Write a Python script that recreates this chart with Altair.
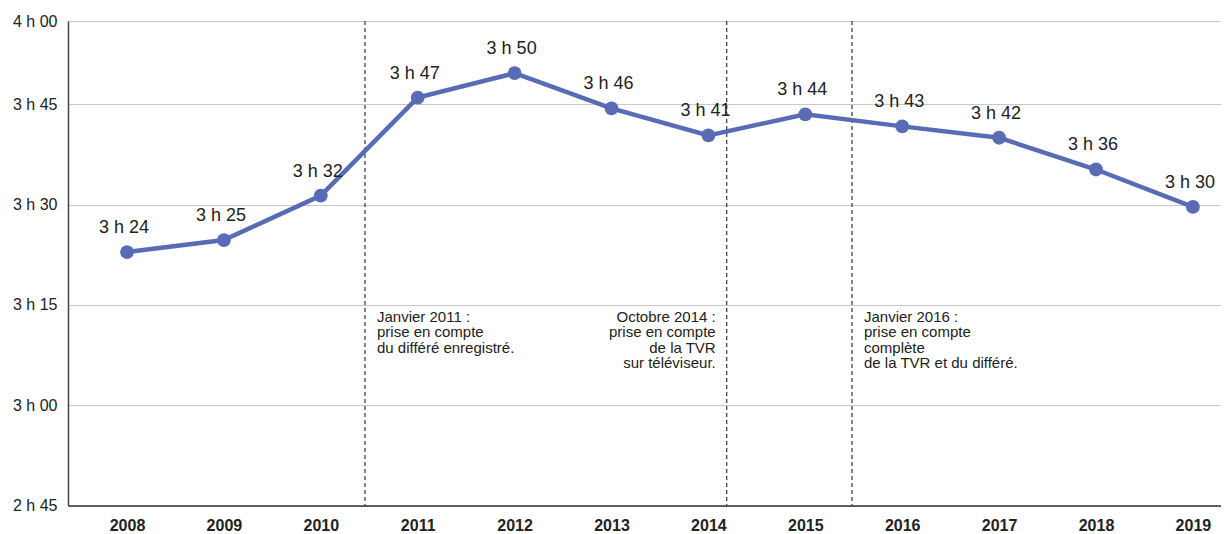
import altair as alt
import pandas as pd

# ---- data ----
years = [2008, 2009, 2010, 2011, 2012, 2013, 2014, 2015, 2016, 2017, 2018, 2019]
minutes = [202.9, 204.7, 211.35, 226.2, 230.6, 224.4, 220.35, 223.5, 221.7, 220.0, 215.25, 209.65]
value_labels = ["3 h 24", "3 h 25", "3 h 32", "3 h 47", "3 h 50", "3 h 46",
                "3 h 41", "3 h 44", "3 h 43", "3 h 42", "3 h 36", "3 h 30"]

y_tick_values = [165, 180, 195, 210, 225, 240]
y_tick_labels = ["2 h 45", "3 h 00", "3 h 15", "3 h 30", "3 h 45", "4 h 00"]

break_years = [2010.456, 2014.189, 2015.482]
notes_left = [
    ["Janvier 2011 :", "prise en compte", "du différé enregistré."],
    ["Janvier 2016 :", "prise en compte", "complète", "de la TVR et du différé."],
]
notes_left_years = [break_years[0], break_years[2]]
notes_right = [["Octobre 2014 :", "prise en compte", "de la TVR", "sur téléviseur."]]
notes_right_years = [break_years[1]]
note_anchor = 195  # notes hang just below the 3 h 15 gridline

# ---- frames ----
df = pd.DataFrame({"year": years, "minutes": minutes, "label": value_labels})
df_breaks = pd.DataFrame({"year": break_years})
df_nl = pd.DataFrame({"year": notes_left_years, "text": notes_left, "y": [note_anchor] * 2})
df_nr = pd.DataFrame({"year": notes_right_years, "text": notes_right, "y": [note_anchor]})

W, H = 1153, 484.5
BLUE = "#5a6bb5"
FONT = "Liberation Sans"

label_expr = " : ".join(
    f"datum.value == {v} ? '{t}'" for v, t in zip(y_tick_values, y_tick_labels)
) + " : ''"

x_scale = alt.Scale(domain=[2007.391, 2019.29], nice=False, zero=False)
y_scale = alt.Scale(domain=[165, 225, 240], range=[H, 83.3, 0], nice=False, zero=False)

x_axis = alt.Axis(values=years, format="d", title=None, grid=False, ticks=False,
                  domainColor="#333", domainWidth=1.5, labelFont=FONT,
                  labelFontSize=16, labelFontWeight="bold", labelColor="#222",
                  labelPadding=12, labelFlush=False)
y_axis = alt.Axis(values=y_tick_values, labelExpr=label_expr, title=None,
                  grid=True, gridColor="#c8c8c8", gridWidth=1.2, ticks=False,
                  domainColor="#444", domainWidth=1.5, labelFont=FONT,
                  labelFontSize=16, labelColor="#222", labelPadding=11)

base = alt.Chart(df)

line = base.mark_line(color=BLUE, strokeWidth=4.5).encode(
    x=alt.X("year:Q", scale=x_scale, axis=x_axis),
    y=alt.Y("minutes:Q", scale=y_scale, axis=y_axis),
)
points = base.mark_circle(color=BLUE, size=190, opacity=1).encode(
    x=alt.X("year:Q", scale=x_scale),
    y=alt.Y("minutes:Q", scale=y_scale),
)
texts = base.mark_text(font=FONT, fontSize=18, color="#222", dx=-3, dy=-24,
                       baseline="middle").encode(
    x=alt.X("year:Q", scale=x_scale),
    y=alt.Y("minutes:Q", scale=y_scale),
    text="label:N",
)
rules = alt.Chart(df_breaks).mark_rule(color="#333", strokeWidth=1.2,
                                        strokeDash=[4, 3]).encode(
    x=alt.X("year:Q", scale=x_scale),
)
notes_l = alt.Chart(df_nl).mark_text(font=FONT, fontSize=15, lineHeight=15.5,
                                      color="#222", align="left", baseline="top",
                                      dx=12, dy=5).encode(
    x=alt.X("year:Q", scale=x_scale),
    y=alt.Y("y:Q", scale=y_scale),
    text="text",
)
notes_r = alt.Chart(df_nr).mark_text(font=FONT, fontSize=15, lineHeight=15.5,
                                      color="#222", align="right", baseline="top",
                                      dx=-11, dy=5).encode(
    x=alt.X("year:Q", scale=x_scale),
    y=alt.Y("y:Q", scale=y_scale),
    text="text",
)

chart = alt.layer(rules, line, points, texts, notes_l, notes_r).properties(
    width=W, height=H,
    autosize=alt.AutoSizeParams(type="none"),
    padding={"left": 60, "top": 13, "right": 0, "bottom": 28},
    background="white",
).configure_view(stroke=None)

chart.save("out.html", embed_options={"renderer": "svg", "actions": False})
